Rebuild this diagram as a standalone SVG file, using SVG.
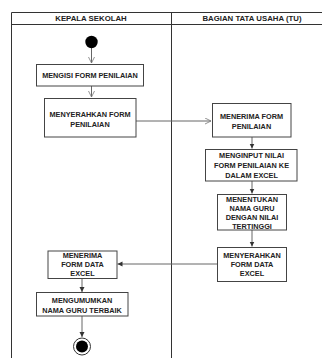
<svg xmlns="http://www.w3.org/2000/svg" width="322" height="358" viewBox="0 0 322 358">
<defs>
<style>
.lane{fill:none;stroke:#333;stroke-width:1}
.box{fill:#fff;stroke:#444;stroke-width:1}
.t{font-family:"Liberation Sans",Arial,sans-serif;font-weight:bold;font-size:7.3px;fill:#222;text-anchor:middle}
.h{font-family:"Liberation Sans",Arial,sans-serif;font-weight:bold;font-size:7.8px;fill:#222;text-anchor:middle}
.c{fill:none;stroke:#666;stroke-width:1}
</style>
<marker id="open" markerWidth="8" markerHeight="8" refX="6" refY="3" orient="auto" markerUnits="userSpaceOnUse">
<path d="M0,0 L6,3 L0,6" fill="none" stroke="#777" stroke-width="0.8"/>
</marker>
<marker id="fill" markerWidth="8" markerHeight="8" refX="5" refY="2.5" orient="auto" markerUnits="userSpaceOnUse">
<path d="M0,0 L5,2.5 L0,5 Z" fill="#333"/>
</marker>
</defs>
<rect width="322" height="358" fill="#fff"/>
<g id="lanes">
<path class="lane" d="M11.5,358 V12.5 H322 M11.5,24.5 H322 M171.5,12.5 V358"/>
<text class="h" x="91" y="21.2">KEPALA SEKOLAH</text>
<text class="h" x="252" y="21.2">BAGIAN TATA USAHA (TU)</text>
</g>
<g id="connectors">
<line class="c" x1="91.5" y1="48" x2="91.5" y2="63" marker-end="url(#open)"/>
<line class="c" x1="91.5" y1="86" x2="91.5" y2="97" marker-end="url(#open)"/>
<line class="c" x1="136" y1="121" x2="211" y2="121" marker-end="url(#open)"/>
<line class="c" x1="252" y1="137" x2="252" y2="148.5" marker-end="url(#fill)"/>
<line class="c" x1="252" y1="181" x2="252" y2="193.5" marker-end="url(#fill)"/>
<line class="c" x1="252" y1="230" x2="252" y2="246.5" marker-end="url(#fill)"/>
<line class="c" x1="217" y1="264" x2="117.5" y2="264" marker-end="url(#fill)"/>
<line class="c" x1="82" y1="278.5" x2="82" y2="292" marker-end="url(#fill)"/>
<line class="c" x1="82" y1="316" x2="82" y2="337" marker-end="url(#fill)"/>
</g>
<g id="start"><circle cx="91.5" cy="42" r="6.2" fill="#000"/></g>
<g id="n1">
<rect class="box" x="36.5" y="64.5" width="107" height="21.5"/>
<text class="t" x="90" y="78">MENGISI FORM PENILAIAN</text>
</g>
<g id="n2">
<rect class="box" x="44.5" y="98.5" width="91.5" height="38.5"/>
<text class="t" x="90" y="116.5">MENYERAHKAN FORM</text>
<text class="t" x="90" y="127">PENILAIAN</text>
</g>
<g id="n3">
<rect class="box" x="212.5" y="103.5" width="78.5" height="33.5"/>
<text class="t" x="251.5" y="118.5">MENERIMA FORM</text>
<text class="t" x="251.5" y="128.5">PENILAIAN</text>
</g>
<g id="n4">
<rect class="box" x="205.5" y="149.5" width="91.5" height="31.5"/>
<text class="t" x="251.5" y="158">MENGINPUT NILAI</text>
<text class="t" x="251.5" y="168.3">FORM PENILAIAN KE</text>
<text class="t" x="251.5" y="178">DALAM EXCEL</text>
</g>
<g id="n5">
<rect class="box" x="217.5" y="194.5" width="69" height="35.5"/>
<text class="t" x="252" y="201.8">MENENTUKAN</text>
<text class="t" x="252" y="211">NAMA GURU</text>
<text class="t" x="252" y="220">DENGAN NILAI</text>
<text class="t" x="252" y="229">TERTINGGI</text>
</g>
<g id="n6">
<rect class="box" x="217.5" y="247.5" width="69" height="34"/>
<text class="t" x="252" y="258">MENYERAHKAN</text>
<text class="t" x="252" y="267">FORM DATA</text>
<text class="t" x="252" y="276">EXCEL</text>
</g>
<g id="n7">
<rect class="box" x="48" y="251" width="69" height="27.5"/>
<text class="t" x="82.5" y="258">MENERIMA</text>
<text class="t" x="82.5" y="267">FORM DATA</text>
<text class="t" x="82.5" y="275.8">EXCEL</text>
</g>
<g id="n8">
<rect class="box" x="36.5" y="292.5" width="91.5" height="23.5"/>
<text class="t" x="82" y="303">MENGUMUMKAN</text>
<text class="t" x="82" y="312.5">NAMA GURU TERBAIK</text>
</g>
<g id="end">
<circle cx="82" cy="346.5" r="8.5" fill="#fff" stroke="#333" stroke-width="1"/>
<circle cx="82" cy="346.5" r="6" fill="#000"/>
</g>
</svg>
